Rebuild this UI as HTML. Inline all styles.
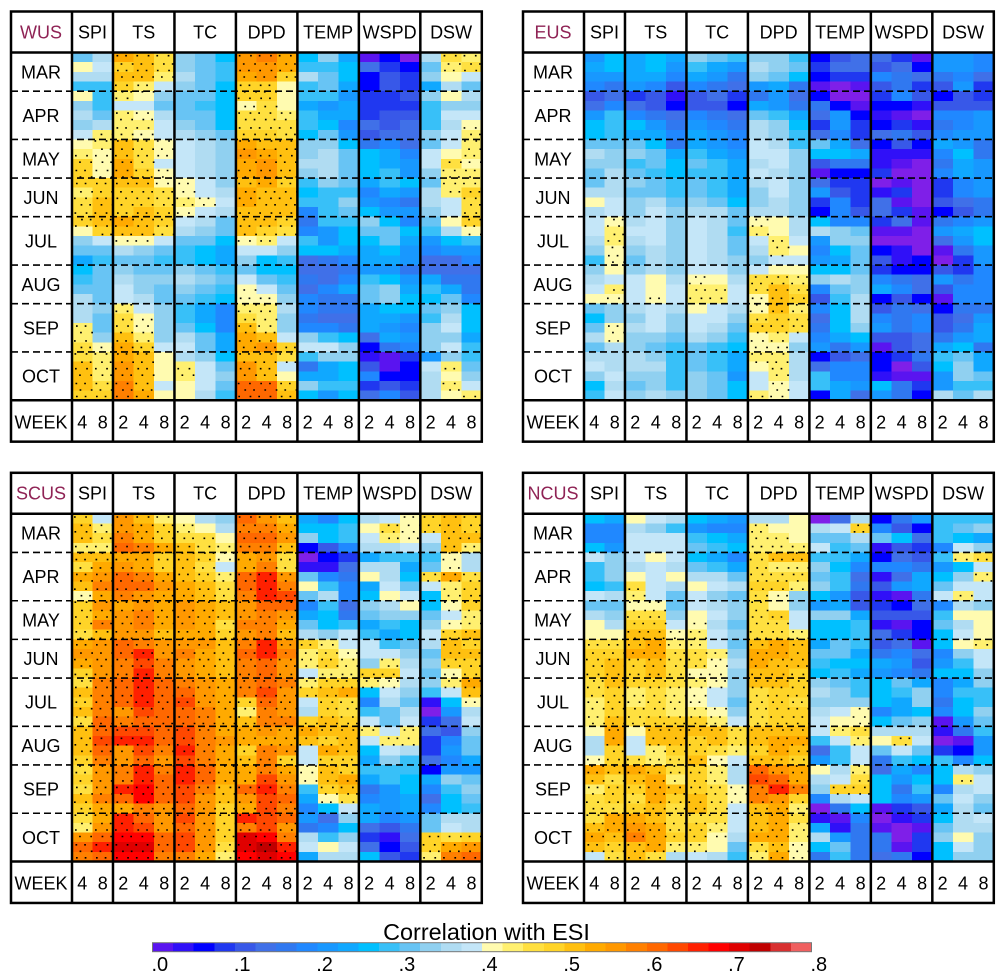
<!DOCTYPE html>
<html lang="en">
<head>
<meta charset="utf-8">
<title>Correlation with ESI</title>
<style>
html,body{margin:0;padding:0;background:#fff;}
svg{display:block;}
text{font-family:"Liberation Sans",Arial,sans-serif;fill:#000;}
</style>
</head>
<body>
<svg id="chart" xmlns="http://www.w3.org/2000/svg" width="1008" height="980" viewBox="0 0 1008 980"></svg>
<script>
// Values are colour-bin numbers: correlation = bin * 0.025. A trailing .5 on bin 16 marks a stippled pale cell.
const months = ["MAR","APR","MAY","JUN","JUL","AUG","SEP","OCT"];
const monthRowCounts = [4,5,4,4,5,4,5,5];
const variables = ["SPI","TS","TC","DPD","TEMP","WSPD","DSW"];
const variableWeeks = [[4,8],[2,4,8],[2,4,8],[2,4,8],[2,4,8],[2,4,8],[2,4,8]];
const colorTickLabels = [".0",".1",".2",".3",".4",".5",".6",".7",".8"];
const legendTitle = "Correlation with ESI";
const significanceBin = 16.5;

const wusValues = [
[12,14,21,20,18,13,12,10,22,23,21,10,13,9,0,2,-1,14,18,17],
[16,15,19,20,18,13,12,11,22,22,21,11,11,10,5,3,2,12,17,18],
[14,14,20,20,17,14,12,11,21,22,19,14,12,10,2,4,3,13,16,15],
[11,11,19,17,15,13,12,10,19,19,16,11,12,9,2,4,3,9,14,12],
[16,11,17,16,13,12,12,10,19,19,16,11,11,8,3,3,4,13,16,14],
[13,11,15,15,12,12,11,10,16.5,18,16,9,8,9,3,3,3,11,13,13],
[14,12,17,16.5,14,12,12,10,18,18,17,11,9,9,3,4,4,11,15,15],
[13,14,17,17,15,13,12,10,18,18,18,11,10,7,5,4,5,11,14,16.5],
[15,17,17,16.5,15,14,13,12,19,19,18,10,12,8,4,5,5,13,15,17],
[16,17,20,18,16.5,15,14,13,21,20,20,13,13,10,6,7,5,12,15,17],
[17,16.5,20,18,16.5,15,14,13,22,21,20,13,14,12,10,9,7,15,16,17],
[19,16.5,21,18,15,15,14,13,21,22,20,14,14,12,10,9,8,15,18,16.5],
[19,16.5,21,19,16.5,15,14,13,21,22,20,13,14,12,10,11,8,13,17,17],
[19,19,20,20,16.5,16.5,15,13,20,21,19,11,13,12,9,11,10,12,17,17],
[17,19,19,19,18,16.5,15,14,21,20,20,10,11,11,7,9,8,14,17,19],
[18,20,19,19,18,17,16.5,15,21,20,20,11,11,13,8,7,6,14,15,18],
[18,20,19,20,19,16.5,15,14,20,20,20,7,11,12,10,8,8,13,15,18],
[19,20,21,20,19,15,14,12,20,20,19,6,11,11,13,10,7,12,16,19],
[16,19,20,20,18,14,13,12,20,19,18,7,8,10,12,12,10,11,14,16.5],
[13,15,16.5,16.5,15,12,12,10,16.5,17,15,11,8,10,10,12,9,8,10,11],
[12,12,14,13,12,11,10,9,15,15,13,10,10,9,9,10,8,7,8,8],
[9,11,12,12,11,11,10,9,13,10,11,5,6,7,9,9,8,5,5,7],
[10,12,13,12,12,13,12,11,12,10,10,5,5,6,8,8,6,5,5,5],
[11,12,14,13,13,14,13,12,15,12,11,6,5,7,11,10,8,9,6,6],
[12,12,15,13,12,13,12,11,16.5,15,12,5,7,9,12,13,9,11,9,6],
[14,12,15,14,12,12,11,10,16.5,16.5,13,7,6,6,12,13,10,10,12,7],
[14,13,17,15,13,11,9,7,17,17,14,7,6,6,9,10,10,12,13,10],
[14,12,18,16.5,13,11,9,7,18,17,13,6,5,5,9,9,8,11,14,10],
[17,12,18,16.5,13,12,10,7,20,17,13,7,7,6,9,8,7,13,15,10],
[17,13,20,17,13,14,12,9,21,20,15,13,11,10,5,9,8,13,13,9],
[18,16.5,21,19,15,15,12,9,21,22,19,15,15,13,2,6,7,13,15,11],
[18,17,21,20,16,14,13,10,20,20,18,11,13,13,1,0,3,8,13,11],
[20,17,22,20,16,17,15,12,22,20,15,6,9,10,4,0,2,15,17,12],
[20,17,22,20,16,17,15,13,22,20,16,9,9,10,7,2,2,14,16,13],
[20,18,23,20,15,16,15,12,24,24,19,13,11,11,3,4,3,14,17,15],
[19,19,23,21,16,16,14,11,24,24,20,10,8,10,5,7,4,14,16,17]
];

const eusValues = [
[8,10,9,10,9,13,12,11,13,13,11,2,4,5,5,3,0,8,8,7],
[9,10,9,10,8,11,9,8,14,13,12,3,5,5,4,5,2,8,8,7],
[8,8,9,9,7,9,8,6,13,12,10,2,3,3,7,6,5,6,7,5],
[7,6,8,7,4,7,6,5,8,9,6,0,-1,0,4,6,3,4,8,3],
[4,5,3,4,1,4,5,3,6,8,5,2,-1,-1,3,7,4,2,4,3],
[5,7,5,4,2,4,4,2,9,8,6,6,2,0,2,2,1,4,4,4],
[8,11,7,6,5,7,6,5,12,11,9,5,8,2,1,0,-1,7,7,8],
[10,11,10,8,6,8,7,6,14,13,10,3,8,3,2,3,1,6,7,8],
[10,11,9,9,7,9,8,7,14,13,11,5,7,3,5,6,4,7,8,8],
[12,12,12,10,6,9,8,7,15,14,11,12,9,5,2,4,2,9,8,6],
[14,13,13,12,9,11,9,8,15,15,13,10,10,9,1,1,1,7,10,6],
[13,13,11,12,10,12,11,9,14,15,13,4,6,6,1,0,-1,6,9,8],
[12,14,12,11,10,11,11,9,15,14,13,0,2,2,3,-1,-1,7,9,8],
[12,14,13,12,11,12,11,9,14,15,13,5,3,3,-1,0,-1,3,7,8],
[14,14,12,12,11,12,11,9,13,15,13,8,4,3,1,3,-1,3,7,8],
[16,15,13,14,12,13,12,10,13,14,13,3,7,3,5,0,-1,4,5,6],
[14,15,13,15,13,14,14,12,14,14,13,2,7,4,5,3,0,2,4,6],
[15,16.5,14,15,13,15,14,12,16.5,16,14,10,7,7,3,5,0,6,7,8],
[15,17,15,15,13,15,14,11,17,16,14,14,13,12,0,0,-1,8,9,10],
[14,17,14,15,13,15,14,12,15,17,15,8,13,13,-1,-1,-1,5,8,10],
[13,16.5,13,14,13,15,14,12,14,17,16,7,10,12,2,1,-1,0,6,8],
[11,16.5,12,14,13,15,14,13,13,15,15,8,9,12,4,1,2,-1,3,8],
[13,16,13,14,13,15,15,13,15,16,16,10,10,12,3,2,2,4,3,7],
[14,15,15,16,14,16.5,16,14,18,18,17,13,14,13,7,6,5,8,6,7],
[15,17,15,16,15,17,17,15,18,20,18,7,12,13,9,7,5,4,7,7],
[16,16.5,15,16.5,15,17,17,15,16.5,20,19,4,11,14,2,4,2,0,7,7],
[12,13,14,15,14,16,15,14,16.5,20,17,7,10,14,4,6,5,2,6,6],
[10,13,13,15,13,15,15,13,18,19,18,5,10,14,7,6,7,4,5,8],
[12,16.5,14,15,13,15,14,12,19,19,18,6,10,13,8,6,7,4,6,9],
[14,16.5,13,13,12,14,13,11,16.5,17,15,7,9,10,4,4,5,6,8,9],
[12,14,13,12,11,12,11,10,16.5,16.5,13,8,6,8,0,4,5,9,10,6],
[14,14,14,13,11,12,11,9,17,17,14,2,4,5,2,3,6,11,12,9],
[15,14,14,14,11,12,11,9,16,17,14,5,7,7,2,-1,4,10,13,9],
[13,15,13,13,11,13,12,8,15,17,14,11,7,7,1,0,0,8,13,12],
[10,14,12,13,11,13,12,10,15,16.5,15,11,9,8,10,6,3,8,11,11],
[11,15,13,14,13,13,12,10,17,16.5,15,2,9,5,8,6,2,14,12,14]
];

const scusValues = [
[19,15,22,20,17,16,14,13,24,22,20,9,7,10,14,15,16.5,19,20,19],
[20,17,22,21,19,17,16,14,23,23,21,10,10,11,16,18,16.5,19,20,19],
[20,18,23,21,19,18,18,16,24,24,22,13,10,11,15,17,16.5,15,20,20],
[17,17,24,23,21,20,18,17,23,23,20,2,4,7,14,14,15,13,20,17],
[20,20,21,21,19,20,19,16.5,21,22,18,-1,2,3,9,11,11,11,16.5,14],
[18,21,22,21,19,20,18,15,21,23,18,1,1,5,14,14,9,12,16.5,14],
[21,22,24,23,21,20,19,17,24,26,22,12,7,6,16,14,10,18,21,18],
[20,23,24,24,22,21,20,18,24,26,23,16,11,7,9,15,12,15,17,19],
[16.5,21,23,22,21,21,20,18,23,26,25,12,14,7,10,16,15,10,17,19],
[19,22,21,22,21,22,21,20,22,24,24,7,11,5,13,14,16,10,16.5,19],
[19,21,22,23,21,22,21,20,22,23,22,9,10,6,12,13,13,12,15,17],
[19,23,22,23,21,22,21,18,23,23,21,12,10,11,9,11,10,13,16.5,17],
[18,20,22,22,20,21,21,19,22,23,20,14,13,15,11,9,10,15,19,20],
[21,22,24,23,22,22,22,20,23,26,22,19,17,15,15,11,12,14,20,19],
[22,22,24,26,22,23,21,20,24,26,23,17,18,16.5,15,15,13,12,20,20],
[21,22,23,25,23,22,21,20,23,24,22,17,19,17,13,17,14,13,19,19],
[19,22,23,26,23,22,21,20,23,24,22,15,17,17,19,19,15,12,16.5,19],
[18,23,24,26,24,23,22,21,23,24,23,17,19,19,17,16.5,14,13,17,21],
[20,23,24,26,24,24,22,21,23,25,22,19,20,21,10,15,13,11,15,20],
[19,23,24,26,24,25,22,21,19,24,22,15,19,18,7,14,12,1,10,16.5],
[20,23,22,25,24,24,23,21,17,23,22,14,19,18,11,12,14,-1,8,14],
[18,24,23,24,24,24,23,21,20,23,23,19,20,19,15,12,15,3,5,15],
[20,24,25,25,24,25,23,21,21,22,21,21,20,20,17,15,17,5,4,13],
[20,25,26,26,24,25,23,22,21,21,21,20,19,20,15,17,17,3,7,12],
[20,24,22,25,23,26,23,21,19,23,22,15,21,20,10,15,14,3,8,12],
[19,23,22,24,22,25,23,21,20,23,19,15,19,19,9,13,11,5,7,9],
[18,22,23,26,23,26,24,21,21,23,21,16.5,20,19,11,11,11,2,8,8],
[19,22,23,26,24,26,24,21,21,25,22,16.5,20,21,9,11,10,9,13,12],
[18,22,26,27,24,25,23,20,24,26,23,11,19,20,6,8,10,7,11,13],
[20,23,24,27,24,25,22,20,22,25,24,9,16.5,18,7,8,9,5,10,12],
[19,21,21,23,22,24,22,19,21,25,23,7,10,15,9,8,9,7,10,11],
[18,21,26,24,22,25,22,19,26,25,24,8,5,13,9,7,8,12,14,14],
[17,22,26,25,22,24,22,19,23,25,22,6,7,10,5,4,6,12,15,14],
[22,24,27,27,24,25,22,19,28,27,23,14,11,13,3,1,5,19,18,19],
[24,26,28,28,24,25,22,18,28,29,26,15,16,15,5,2,4,19,21,22],
[23,24,27,27,23,23,21,17,27,28,27,9,14,14,10,4,3,17,23,24]
];

const ncusValues = [
[10,9,16,15,14,10,9,8,14,14,16,-1,5,14,2,6,8,11,11,11],
[7,7,14,13,11,8,7,7,17,16,16,14,15,19,7,4,2,11,12,13],
[7,7,15,15,15,11,10,9,17,17,16,12,12,14,12,10,5,11,10,9],
[10,8,15,15,15,12,11,10,17,17,17,15,11,12,1,4,3,7,15,13],
[15,13,15,16,15,10,9,7,18,20,20,11,11,9,2,5,4,11,17,18],
[11,13,14,15,14,12,11,9,18,17,17,13,10,7,7,7,6,8,10,15],
[11,13,16,15,16,14,14,12,18,18,18,12,11,5,1,5,9,10,13,17],
[10,11,18,15,14,16,15,14,19,19,17,13,11,6,4,8,9,12,15,15],
[15,14,17,15,12,15,13,12,18,16.5,13,10,8,4,1,0,6,15,17,15],
[12,12,16.5,16.5,12,15,14,13,18,16,13,8,9,4,3,2,5,7,14,13],
[14,13,18,18,13,16,15,13,18,19,15,13,13,9,4,4,4,11,16,16],
[16,14,19,19,15,16.5,14,12,18,18,15,10,10,11,1,0,2,12,14,16],
[16,16,20,20,16.5,17,15,13,18,18,17,10,10,11,5,3,2,10,15,16],
[18,18,20,21,17,17,15,12,20,21,20,9,12,11,4,5,0,10,16,17],
[19,19,21,21,18,18,17,13,21,21,20,12,12,9,6,7,5,7,13,15],
[19,20,19,20,18,18,16.5,14,21,20,20,11,10,10,9,8,4,8,11,15],
[19,20,19,20,18,16.5,16.5,13,20,20,19,10,11,9,8,7,6,10,10,13],
[18,20,19,19,18,17,16.5,13,20,20,19,13,12,11,10,12,9,7,9,13],
[18,19,17,18,17,16.5,15,13,18,19,19,14,13,11,10,11,13,7,11,11],
[17,19,17,18,17,16.5,15,12,18,19,18,13,13,13,10,9,13,6,10,11],
[17,19,18,18,17,17,16.5,13,18,19,19,14,15,16.5,7,9,10,7,10,13],
[17,20,18,19,19,19,17,15,18,19,19,15,16,16.5,10,12,13,0,8,12],
[16,21,16,20,20,20,20,18,20,20,20,15,17,18,14,14,14,1,6,11],
[14,21,15,20,20,19,20,18,20,21,21,11,15,17,16,18,15,-1,0,8],
[14,19,15,17,19,19,18,17,19,21,20,5,11,15,12,15,12,3,2,8],
[16.5,19,18,17,18,20,16.5,15,20,20,19,8,11,15,6,11,10,11,7,10],
[21,20,21,20,18,19,17,14,24,22,21,16,14,17,5,9,7,10,14,13],
[20,18,20,21,17,19,17,14,25,24,21,14,15,18,10,8,10,10,17,15],
[17,19,19,21,20,19,18,16.5,23,26,23,13,19,19,10,6,11,7,14,15],
[18,19,18,21,19,20,18,16.5,23,22,19,7,14,15,10,7,8,12,15,13],
[18,18,19,20,18,20,18,15,20,21,17,-1,6,10,0,3,4,9,14,12],
[18,21,21,20,18,18,18,15,20,21,18,1,0,7,-1,1,3,10,14,15],
[20,21,22,21,18,19,17,15,20,21,17,9,1,6,0,-1,0,12,14,14],
[21,20,23,21,19,19,16.5,14,21,21,17,14,8,6,6,-1,3,13,16,13],
[20,19,20,21,17,17,16,12,18,20,16.5,10,12,6,6,0,3,10,15,13],
[15,18,20,18,14,15,14,11,17,21,16.5,6,11,6,5,6,2,10,13,13]
];

const binColors = ["#5a14f0","#3010f8","#0000ff","#2038f0","#3858e8","#4070e8","#3078f0","#2088ff","#1898ff","#10a8ff","#00c0ff","#38c0f8","#68c4f4","#90d0f0","#b0dcf2","#c4e6f8","#fffbb0","#fff070","#ffe040","#ffd428","#ffc010","#ffaa00","#ff9800","#ff8000","#ff6800","#ff4800","#ff2000","#ff0000","#e00000","#c00000","#d83030","#f06060"];
const belowZeroColor = "#7f1fe8";

const panels = [
  {name:"WUS", dx:0, dy:0, values:wusValues},
  {name:"EUS", dx:512, dy:0, values:eusValues},
  {name:"SCUS", dx:0, dy:461.3, values:scusValues},
  {name:"NCUS", dx:512, dy:461.3, values:ncusValues}
];

const NS = "http://www.w3.org/2000/svg";
const svg = document.getElementById("chart");

const FRAME_LEFT = 11, GRID_LEFT = 72, COL_W = 20.49, LABEL_X = 41;
const FRAME_TOP = 11.5, GRID_TOP = 52.5, ROW_H = 9.66, WEEK_H = 41.4;

function xScale(col){ return GRID_LEFT + col * COL_W; }
function yScale(row){ return GRID_TOP + row * ROW_H; }
function colorFor(v){
  const bin = Math.floor(v);
  if (bin < 0) return belowZeroColor;
  return binColors[Math.min(bin, binColors.length - 1)];
}
function make(tag, attrs, parent, text){
  const el = document.createElementNS(NS, tag);
  for (const k in attrs) el.setAttribute(k, attrs[k]);
  if (text !== undefined) el.textContent = text;
  parent.appendChild(el);
  return el;
}
function slug(s){ return String(s).toLowerCase(); }

function drawPanel(p){
  const g = make("g", {transform:"translate(" + p.dx + "," + p.dy + ")"}, svg);
  
  

  const nCols = variableWeeks.reduce((a, w) => a + w.length, 0);
  const nRows = p.values.length;
  const gridBottom = yScale(nRows);
  const frameRight = xScale(nCols);
  const frameBottom = gridBottom + WEEK_H;

  make("rect", {x:FRAME_LEFT, y:FRAME_TOP, width:frameRight - FRAME_LEFT, height:frameBottom - FRAME_TOP, fill:"#fff"}, g);

  // heat cells
  const cells = make("g", {"shape-rendering":"crispEdges"}, g);
  
  
  p.values.forEach((row, r) => {
    row.forEach((v, c) => {
      const x0 = xScale(c), y0 = yScale(r);
      const cell = make("rect", {x:x0, y:y0, width:COL_W + 0.4, height:ROW_H + 0.4, fill:colorFor(v)}, cells);
      
      
    });
  });

  // stippling on a staggered lattice wherever the cell under it is significant
  let d = "";
  let line = 0;
  for (let y = GRID_TOP + 3; y < gridBottom - 1; y += 7.1) {
    const shift = line % 2 ? 5.1 : 0;
    let n = 0;
    for (let x = GRID_LEFT + 3 + shift; x < frameRight - 1; x += 10.24) {
      const c = Math.floor((x - GRID_LEFT) / COL_W);
      const r = Math.floor((y - GRID_TOP) / ROW_H);
      if (r < nRows && c < nCols && p.values[r][c] >= significanceBin) {
        const jx = ((n * 7 + line * 3) % 5 - 2) * 0.5;
        const jy = ((n * 3 + line * 5) % 3 - 1) * 0.6;
        d += "M" + (x + jx).toFixed(1) + " " + (y + jy).toFixed(1) + "h1.7v1.6h-1.7z";
      }
      n++;
    }
    line++;
  }
  const dots = make("path", {d:d, fill:"#000"}, g);
  
  

  // month separators and labels
  let rowCursor = 0;
  months.forEach((m, i) => {
    const top = yScale(rowCursor);
    rowCursor += monthRowCounts[i];
    const bottom = yScale(rowCursor);
    const label = make("text", {x:LABEL_X, y:(top + bottom) / 2 + 6.5, "font-size":18, "text-anchor":"middle"}, g, m);
    
    
    if (i < months.length - 1) {
      const sep = make("line", {x1:FRAME_LEFT, x2:frameRight, y1:bottom, y2:bottom, stroke:"#000", "stroke-width":1.6, "stroke-dasharray":"7 4"}, g);
      
      
    }
  });

  // frame lines
  const frame = make("g", {stroke:"#000", "stroke-width":2.5, fill:"none"}, g);
  
  
  make("rect", {x:FRAME_LEFT, y:FRAME_TOP, width:frameRight - FRAME_LEFT, height:frameBottom - FRAME_TOP}, frame);
  make("line", {x1:FRAME_LEFT, x2:frameRight, y1:GRID_TOP, y2:GRID_TOP}, frame);
  make("line", {x1:FRAME_LEFT, x2:frameRight, y1:gridBottom, y2:gridBottom}, frame);
  make("line", {x1:GRID_LEFT, x2:GRID_LEFT, y1:FRAME_TOP, y2:frameBottom}, frame);

  // region title
  const title = make("text", {x:LABEL_X, y:38.3, "font-size":18, "text-anchor":"middle", style:"fill:#8f2355"}, g, p.name);
  
  

  // variable headers, week labels
  const week = make("text", {x:LABEL_X, y:gridBottom + 28, "font-size":18, "text-anchor":"middle"}, g, "WEEK");
  
  

  let col = 0;
  variables.forEach((name, i) => {
    const weeks = variableWeeks[i];
    const start = xScale(col), end = xScale(col + weeks.length);
    const head = make("text", {x:(start + end) / 2, y:38.3, "font-size":18, "text-anchor":"middle"}, g, name);
    
    
    weeks.forEach((w, j) => {
      const t = make("text", {x:xScale(col + j + 0.5), y:gridBottom + 28, "font-size":18, "text-anchor":"middle"}, g, w);
      
      
    });
    col += weeks.length;
    if (i < variables.length - 1) {
      make("line", {x1:end, x2:end, y1:FRAME_TOP, y2:frameBottom}, frame);
    }
  });
}

function drawLegend(){
  const barLeft = 152.5, barRight = 811.5, barTop = 942.7, barH = 9;
  const g = make("g", {}, svg);
  
  
  const title = make("text", {x:486.5, y:940, "font-size":23.4, "text-anchor":"middle"}, g, legendTitle);
  
  
  const w = (barRight - barLeft) / binColors.length;
  const boxes = make("g", {"shape-rendering":"crispEdges"}, g);
  
  
  binColors.forEach((color, i) => {
    const box = make("rect", {x:barLeft + i * w, y:barTop, width:w + 0.4, height:barH, fill:color}, boxes);
    
    
  });
  const outline = make("rect", {x:barLeft, y:barTop, width:barRight - barLeft, height:barH, fill:"none", stroke:"#777", "stroke-width":1}, g);
  
  
  const step = (barRight - barLeft) / (colorTickLabels.length - 1);
  colorTickLabels.forEach((lab, i) => {
    const t = make("text", {x:barLeft + i * step - 1, y:971, "font-size":20}, g, lab);
    
    
  });
}

panels.forEach(drawPanel);
drawLegend();
</script>
</body>
</html>
